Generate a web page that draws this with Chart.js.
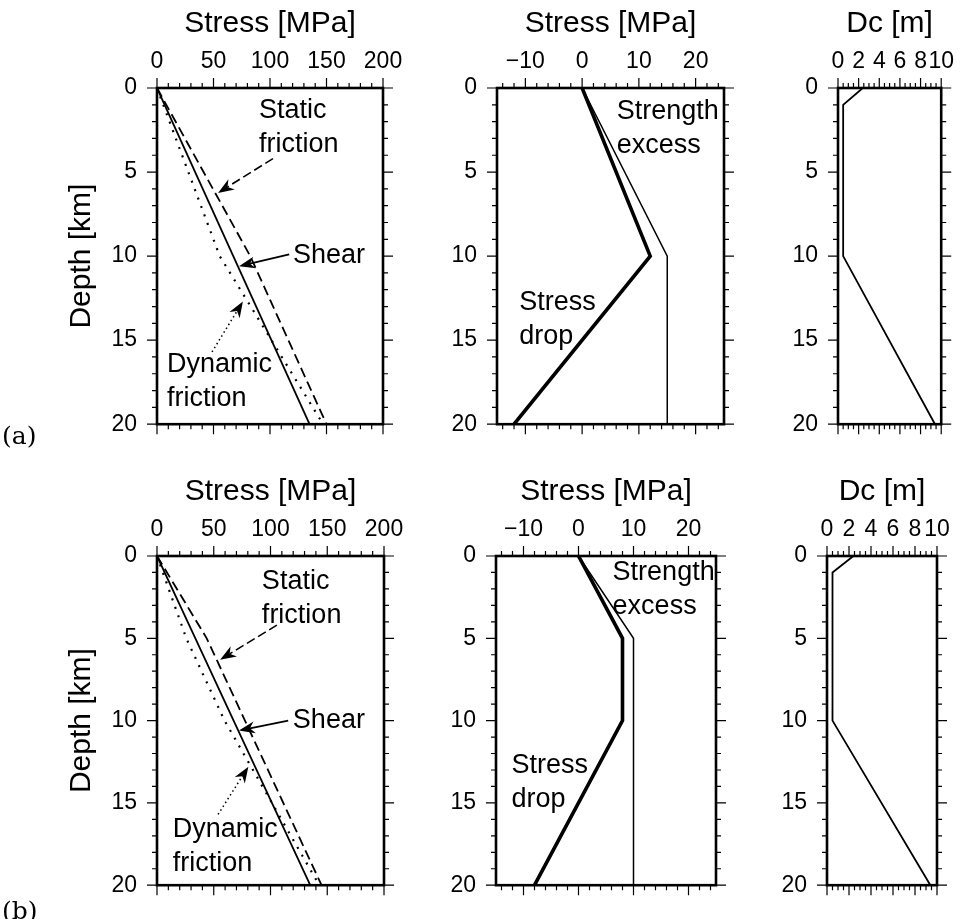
<!DOCTYPE html>
<html>
<head>
<meta charset="utf-8">
<script src="https://cdn.jsdelivr.net/npm/chart.js@4.4.1/dist/chart.umd.min.js"></script>
<style>
  html, body { margin: 0; padding: 0; background: #fff; }
  body { width: 967px; height: 919px; position: relative; overflow: hidden; }
  canvas { position: absolute; }
</style>
</head>
<body>
<canvas id="a1"></canvas>
<canvas id="a2"></canvas>
<canvas id="a3"></canvas>
<canvas id="b1"></canvas>
<canvas id="b2"></canvas>
<canvas id="b3"></canvas>
<script>
// depth knots [km]
const depthA = [0, 10, 20];
const depthB = [0, 5, 10, 20];
const depthDc = [0, 1, 10, 20];

// case (a) stress profiles [MPa]
const shearA = [0, 67.5, 135];
const staticA = [0, 82.5, 150];
const dynamicA = [0, 55.5, 147];
const excessA = [0, 15, 15];
const dropA = [0, 12, -12];

// case (b) stress profiles [MPa]
const shearB = [0, 33.8, 67.5, 135];
const staticB = [0, 43.8, 77.5, 145];
const dynamicB = [0, 25.8, 59.5, 143];
const excessB = [0, 10, 10, 10];
const dropB = [0, 8, 8, -8];

// critical slip distance [m], same for both cases
const dcA = [2.4, 0.5, 0.5, 9.4];
const dcB = [2.4, 0.5, 0.5, 9.4];

// tick labels
const stressTicks = [0, 50, 100, 150, 200];
const dropTicks = [-10, 0, 10, 20];
const dcTicks = [0, 2, 4, 6, 8, 10];
const depthTicks = [0, 5, 10, 15, 20];

const FONT = "'Liberation Sans', Arial, Helvetica, sans-serif";

// pairs depth + value arrays into {x, y} points
function profile(depths, values, style) {
    return Object.assign({
        data: depths.map((d, i) => ({ x: values[i], y: d })),
        borderColor: '#000',
        pointRadius: 0,
        tension: 0,
        fill: false
    }, style);
}

function fmt(v) {
    return v < 0 ? '\u2212' + Math.abs(v) : String(v);
}

function drawArrow(ctx, x0, y0, x1, y1, dash, lw) {
    const ang = Math.atan2(y1 - y0, x1 - x0);
    const c = Math.cos(ang), s = Math.sin(ang);
    const hl = 16, hw = 6;
    const bx = x1 - c * hl * 0.7, by = y1 - s * hl * 0.7;
    ctx.setLineDash(dash);
    ctx.lineWidth = lw;
    ctx.beginPath();
    ctx.moveTo(x0, y0);
    ctx.lineTo(bx, by);
    ctx.stroke();
    ctx.setLineDash([]);
    ctx.beginPath();
    ctx.moveTo(x1, y1);
    ctx.lineTo(x1 - c * hl - s * hw, y1 - s * hl + c * hw);
    ctx.lineTo(bx, by);
    ctx.lineTo(x1 - c * hl + s * hw, y1 - s * hl - c * hw);
    ctx.closePath();
    ctx.fill();
}

// frame, minor/major ticks on all four sides, text notes and arrows
const framePlugin = {
    id: 'frame',
    afterDraw(chart, args, o) {
        const { ctx, chartArea: a } = chart;
        const x = chart.scales.x, y = chart.scales.y;
        ctx.save();
        ctx.strokeStyle = '#000';
        ctx.fillStyle = '#000';
        ctx.lineWidth = 1.2;
        ctx.beginPath();
        for (let i = Math.ceil(x.min / o.xMinor - 1e-9); i * o.xMinor <= x.max + 1e-9; i++) {
            const v = i * o.xMinor;
            const major = Math.abs(v / o.xMajor - Math.round(v / o.xMajor)) < 1e-6;
            const len = major ? 10 : 5;
            const px = x.getPixelForValue(v);
            ctx.moveTo(px, a.top); ctx.lineTo(px, a.top - len);
            ctx.moveTo(px, a.bottom); ctx.lineTo(px, a.bottom + len);
        }
        for (let v = 0; v <= 20; v += 1) {
            const len = v % 5 === 0 ? 10 : 5;
            const py = y.getPixelForValue(v);
            ctx.moveTo(a.left, py); ctx.lineTo(a.left - len, py);
            ctx.moveTo(a.right, py); ctx.lineTo(a.right + len, py);
        }
        ctx.stroke();
        ctx.lineWidth = 2.6;
        ctx.strokeRect(a.left, a.top, a.right - a.left, a.bottom - a.top);

        ctx.font = '27px ' + FONT;
        ctx.textAlign = 'left';
        ctx.textBaseline = 'middle';
        (o.notes || []).forEach(n => {
            const px = x.getPixelForValue(n.x), py = y.getPixelForValue(n.y);
            n.text.forEach((t, i) => ctx.fillText(t, px, py + i * 34));
        });
        (o.arrows || []).forEach(r => {
            drawArrow(ctx, x.getPixelForValue(r.from[0]), y.getPixelForValue(r.from[1]),
                x.getPixelForValue(r.to[0]), y.getPixelForValue(r.to[1]), r.dash, r.lw);
        });
        if (o.tag) {
            ctx.font = "25px 'DejaVu Serif', serif";
            ctx.fillText(o.tag.text, o.tag.x, o.tag.y);
        }
        ctx.restore();
    }
};

function makePanel(id, box, xs, datasets, extra) {
    const cv = document.getElementById(id);
    cv.width = box.L + box.W + box.R;
    cv.height = box.T + box.H + box.B;
    cv.style.left = box.left + 'px';
    cv.style.top = box.top + 'px';
    new Chart(cv.getContext('2d'), {
        type: 'line',
        data: { datasets: datasets },
        options: {
            responsive: false,
            animation: false,
            layout: { padding: { left: 0, top: 0, right: box.R, bottom: box.B } },
            plugins: { legend: { display: false }, tooltip: { enabled: false }, frame: extra },
            scales: {
                x: {
                    type: 'linear',
                    position: 'top',
                    min: xs.min,
                    max: xs.max,
                    afterBuildTicks: s => { s.ticks = xs.ticks.map(v => ({ value: v })); },
                    afterFit: s => { s.height = box.T; },
                    ticks: { font: { family: FONT, size: 23 }, color: '#000', padding: 13,
                             autoSkip: false, maxRotation: 0, callback: fmt },
                    grid: { display: false, drawTicks: false },
                    border: { display: false },
                    title: { display: true, text: xs.title, color: '#000',
                             font: { family: FONT, size: 30 }, padding: { top: 6, bottom: 0 } }
                },
                y: {
                    type: 'linear',
                    position: 'left',
                    reverse: true,
                    min: 0,
                    max: 20,
                    afterBuildTicks: s => { s.ticks = depthTicks.map(v => ({ value: v })); },
                    afterFit: s => { s.width = box.L; },
                    ticks: { font: { family: FONT, size: 23 }, color: '#000', padding: 20,
                             autoSkip: false, callback: fmt },
                    grid: { display: false, drawTicks: false },
                    border: { display: false },
                    title: { display: !!box.yTitle, text: box.yTitle || '', color: '#000',
                             font: { family: FONT, size: 30 }, padding: { top: 64, bottom: 0 } }
                }
            }
        },
        plugins: [framePlugin]
    });
}

const stressAxis = { min: 0, max: 200, ticks: stressTicks, title: 'Stress [MPa]' };
const dropAxis = { min: -15, max: 25, ticks: dropTicks, title: 'Stress [MPa]' };
const dcAxis = { min: 0, max: 10, ticks: dcTicks, title: 'Dc [m]' };

const solid = { borderWidth: 1.8 };
const dashed = { borderWidth: 1.8, borderDash: [10, 5] };
const dotted = { borderWidth: 2.2, borderDash: [2, 7] };
const thick = { borderWidth: 3.6 };
const thin = { borderWidth: 1.5 };

// ---- row (a) ----
makePanel('a1', { left: 0, top: 0, L: 157, W: 226, R: 40, T: 88, H: 340, B: 30, yTitle: 'Depth [km]' },
    stressAxis,
    [profile(depthA, shearA, solid), profile(depthA, staticA, dashed), profile(depthA, dynamicA, dotted)],
    {
        xMinor: 10, xMajor: 50,
        notes: [
            { text: ['Static', 'friction'], x: 90.3, y: 1.35 },
            { text: ['Shear'], x: 120.4, y: 9.94 },
            { text: ['Dynamic', 'friction'], x: 8.8, y: 16.47 }
        ],
        arrows: [
            { from: [102.6, 4.2], to: [54, 6.24], dash: [9, 4], lw: 1.6 },
            { from: [117, 9.9], to: [72.6, 10.6], dash: [], lw: 1.8 },
            { from: [48.7, 15.7], to: [76, 12.7], dash: [1.5, 3], lw: 1.5 }
        ],
        tag: { text: '(a)', x: 2, y: 437 }
    });

makePanel('a2', { left: 430, top: 0, L: 67, W: 227, R: 30, T: 88, H: 340, B: 30 },
    dropAxis,
    [profile(depthA, excessA, thin), profile(depthA, dropA, thick)],
    {
        xMinor: 2, xMajor: 10,
        notes: [
            { text: ['Strength', 'excess'], x: 6.1, y: 1.41 },
            { text: ['Stress', 'drop'], x: -11.1, y: 12.76 }
        ]
    });

makePanel('a3', { left: 770, top: 0, L: 68, W: 113, R: 16, T: 88, H: 340, B: 30 },
    dcAxis,
    [profile(depthDc, dcA, solid)],
    { xMinor: 0.5, xMajor: 2 });

// ---- row (b) ----
makePanel('b1', { left: 0, top: 468, L: 157, W: 227, R: 40, T: 88, H: 339, B: 24, yTitle: 'Depth [km]' },
    stressAxis,
    [profile(depthB, shearB, solid), profile(depthB, staticB, dashed), profile(depthB, dynamicB, dotted)],
    {
        xMinor: 10, xMajor: 50,
        notes: [
            { text: ['Static', 'friction'], x: 92.4, y: 1.55 },
            { text: ['Shear'], x: 119.7, y: 9.98 },
            { text: ['Dynamic', 'friction'], x: 13.8, y: 16.6 }
        ],
        arrows: [
            { from: [105.6, 4.2], to: [55.6, 6.3], dash: [9, 4], lw: 1.6 },
            { from: [115.6, 10.0], to: [72.2, 10.6], dash: [], lw: 1.8 },
            { from: [53.8, 15.7], to: [80.5, 12.8], dash: [1.5, 3], lw: 1.5 }
        ],
        tag: { text: '(b)', x: 2, y: 444 }
    });

makePanel('b2', { left: 430, top: 468, L: 66, W: 220, R: 30, T: 88, H: 339, B: 24 },
    dropAxis,
    [profile(depthB, excessB, thin), profile(depthB, dropB, thick)],
    {
        xMinor: 2, xMajor: 10,
        notes: [
            { text: ['Strength', 'excess'], x: 6.2, y: 1.02 },
            { text: ['Stress', 'drop'], x: -12.2, y: 12.75 }
        ]
    });

makePanel('b3', { left: 770, top: 468, L: 57, W: 110, R: 26, T: 88, H: 339, B: 24 },
    dcAxis,
    [profile(depthDc, dcB, solid)],
    { xMinor: 0.5, xMajor: 2 });
</script>
</body>
</html>
